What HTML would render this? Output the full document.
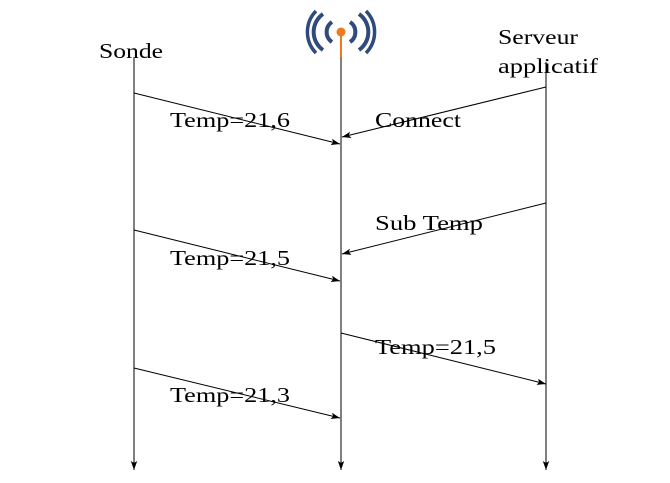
<!DOCTYPE html>
<html><head><style>body{margin:0;background:#fff}svg{display:block}text{font-family:"Liberation Serif",serif;font-size:21px;fill:#000}</style></head><body>
<svg width="670" height="483" viewBox="0 0 670 483">
<defs><marker id="a" markerWidth="10" markerHeight="8" refX="9" refY="4" orient="auto" markerUnits="userSpaceOnUse"><path d="M0,0.8 L9,4 L0,7.2 L2,4Z" fill="#000"/></marker></defs>
<g stroke="#000" stroke-width="1" fill="none">
<line x1="134" y1="58" x2="134" y2="470" marker-end="url(#a)"/>
<line x1="341" y1="56" x2="341" y2="470" marker-end="url(#a)"/>
<line x1="546" y1="62" x2="546" y2="470" marker-end="url(#a)"/>
<line x1="134" y1="93" x2="340" y2="144" marker-end="url(#a)"/>
<line x1="546" y1="87" x2="342" y2="137" marker-end="url(#a)"/>
<line x1="546" y1="203" x2="342" y2="254" marker-end="url(#a)"/>
<line x1="134" y1="230" x2="340" y2="281" marker-end="url(#a)"/>
<line x1="341" y1="333" x2="546" y2="384" marker-end="url(#a)"/>
<line x1="134" y1="368" x2="340" y2="418" marker-end="url(#a)"/>
</g>
<text x="99" y="58" textLength="64" lengthAdjust="spacingAndGlyphs">Sonde</text>
<text x="498" y="44" textLength="80" lengthAdjust="spacingAndGlyphs">Serveur</text>
<text x="498" y="73" textLength="100" lengthAdjust="spacingAndGlyphs">applicatif</text>
<text x="170" y="127" textLength="120" lengthAdjust="spacingAndGlyphs">Temp=21,6</text>
<text x="375" y="127" textLength="86" lengthAdjust="spacingAndGlyphs">Connect</text>
<text x="375" y="230" textLength="108" lengthAdjust="spacingAndGlyphs">Sub Temp</text>
<text x="170" y="265" textLength="120" lengthAdjust="spacingAndGlyphs">Temp=21,5</text>
<text x="375" y="354" textLength="121" lengthAdjust="spacingAndGlyphs">Temp=21,5</text>
<text x="170" y="402" textLength="120" lengthAdjust="spacingAndGlyphs">Temp=21,3</text>
<g fill="none" stroke="#2f4a7c" stroke-width="4">
<path d="M332,22 A12,12 0 0 0 332,42"/><path d="M350,22 A12,12 0 0 1 350,42"/>
<path d="M323,14 A22,22 0 0 0 323,50"/><path d="M359,14 A22,22 0 0 1 359,50"/>
<path d="M316,11 A30,30 0 0 0 316,53" stroke-width="3.5"/><path d="M366,11 A30,30 0 0 1 366,53" stroke-width="3.5"/>
</g>
<line x1="341" y1="32" x2="341" y2="57" stroke="#f07a22" stroke-width="2"/>
<circle cx="341" cy="32" r="4.5" fill="#f07a22"/>
</svg>
</body></html>
